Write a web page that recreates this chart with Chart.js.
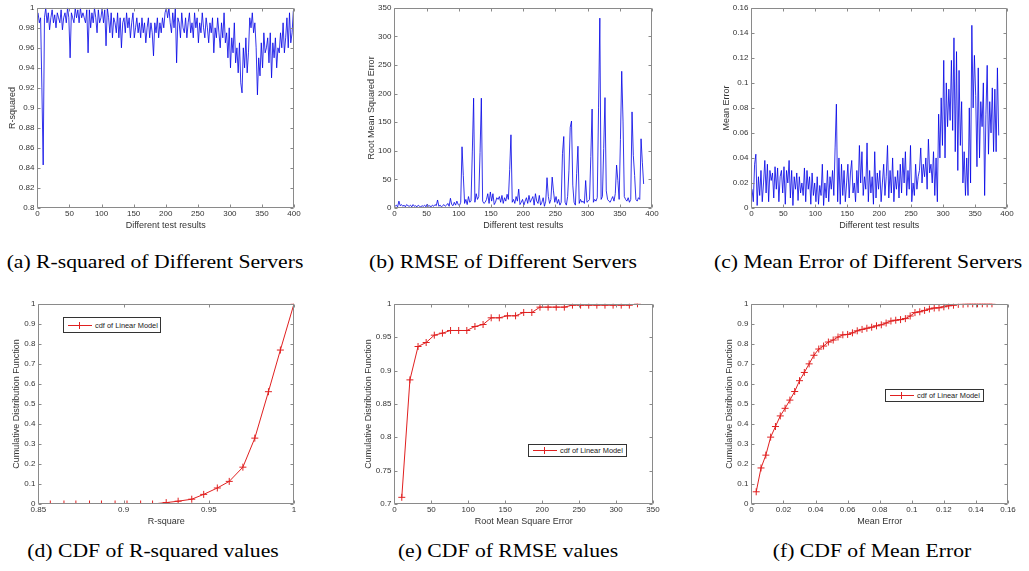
<!DOCTYPE html>
<html>
<head>
<meta charset="utf-8">
<title>Linear model accuracy</title>
<script src="https://cdn.jsdelivr.net/npm/chart.js@4.4.0/dist/chart.umd.min.js"></script>
<style>
body { margin: 0; background: #fff; width: 1029px; height: 571px; position: relative; overflow: hidden; }
canvas { position: absolute; }
.cap { position: absolute; font-family: 'Liberation Serif', 'Times New Roman', serif; font-size: 19px; line-height: 19px; color: #000; white-space: nowrap; transform: translateX(-50%) scaleX(1.14); }
.leg { position: absolute; border: 1px solid #333; background: #fff; box-sizing: border-box; font-family: 'Liberation Sans', Arial, sans-serif; font-size: 7.4px; color: #222; display: flex; align-items: center; white-space: nowrap; overflow: hidden; }
.leg .smp { position: relative; flex: none; width: 24px; height: 1px; background: #e02020; margin: 0 3px 0 4px; }
.leg .smp::before { content: ''; position: absolute; left: 11px; top: -3px; width: 1px; height: 7px; background: #e02020; }
</style>
</head>
<body>

<script>
// Top row: one value every second test result (x = 1, 3, 5, ...)
const rsqValues = [
  0.995,0.985,0.99,0.92,0.843,0.99,1.0,0.985,0.995,0.978,
  0.99,0.998,0.985,0.993,0.98,0.995,0.99,0.985,0.998,0.978,
  0.99,0.995,0.985,1.0,0.99,0.95,0.995,0.99,0.985,1.0,
  0.99,0.998,0.985,1.0,0.99,0.995,0.99,0.985,0.998,0.955,
  0.998,0.98,0.995,0.985,1.0,0.99,0.975,0.998,0.985,0.99,
  1.0,0.985,0.998,0.962,1.0,0.99,0.975,0.995,0.97,0.99,
  0.985,0.975,0.995,0.97,0.99,0.96,0.985,0.99,0.975,0.995,
  0.98,0.99,0.97,0.985,0.995,0.97,0.98,0.99,0.975,0.985,
  0.97,0.99,0.975,0.985,0.965,0.98,0.99,0.97,0.985,0.975,
  0.952,0.985,0.975,0.99,0.97,0.985,0.975,0.99,0.98,0.995,
  1.0,0.99,1.0,0.985,0.975,0.995,0.98,1.0,0.945,0.99,
  0.985,0.97,0.995,0.98,0.975,0.99,0.97,0.985,0.995,0.975,
  0.985,0.97,0.995,0.98,0.99,0.965,0.985,0.975,0.995,0.98,
  0.97,0.99,0.98,0.965,0.985,0.975,0.99,0.955,0.98,0.97,
  0.99,0.975,0.96,0.985,0.97,0.995,0.965,0.975,0.95,0.98,
  0.94,0.97,0.955,0.985,0.945,0.96,0.935,0.965,0.925,0.915,
  0.96,0.94,0.97,0.935,0.955,0.99,0.98,0.995,0.975,0.985,
  0.96,0.913,0.95,0.932,0.965,0.94,0.975,0.955,0.96,0.97,
  0.945,0.975,0.93,0.965,0.95,0.97,0.94,0.96,0.955,0.975,
  0.96,0.985,0.955,0.97,0.99,0.96,0.995,0.965,0.975,0.997
];
const rmseValues = [
  3,5,2,12,4,6,3,5,2,6,
  4,3,5,2,6,3,4,2,5,3,
  2,4,3,5,2,7,3,4,2,5,
  3,6,4,14,3,5,2,4,6,3,
  5,8,3,17,6,4,10,5,12,6,
  4,10,107,57,8,15,6,20,10,12,
  98,192,10,25,15,20,97,192,12,8,
  10,15,25,8,28,12,25,6,10,18,
  15,20,10,22,8,18,12,24,15,67,
  128,10,15,8,20,12,33,6,10,15,
  5,12,18,8,22,10,15,20,5,25,
  12,8,22,5,10,18,3,12,53,20,
  8,15,54,30,10,20,8,15,5,10,
  95,125,10,5,20,65,141,152,40,10,
  5,60,108,8,15,10,12,8,48,10,
  12,15,90,173,10,15,12,18,175,332,
  15,20,104,193,30,15,12,10,15,20,
  12,25,75,48,15,120,239,152,20,15,
  12,18,10,15,168,92,57,15,12,18,
  15,121,80,42
];
const meanErrValues = [
  0.015,0.005,0.035,0.043,0.002,0.025,0.01,0.03,0.005,0.02,
  0.038,0.012,0.035,0.005,0.03,0.022,0.028,0.008,0.033,0.015,
  0.032,0.005,0.025,0.03,0.012,0.033,0.003,0.03,0.02,0.038,
  0.008,0.03,0.002,0.025,0.015,0.028,0.006,0.025,0.012,0.02,
  0.01,0.032,0.005,0.03,0.015,0.025,0.003,0.028,0.01,0.02,
  0.005,0.025,0.003,0.018,0.01,0.035,0.002,0.02,0.008,0.03,
  0.005,0.025,0.015,0.03,0.01,0.048,0.083,0.005,0.04,0.003,
  0.035,0.01,0.03,0.005,0.02,0.035,0.008,0.028,0.038,0.012,
  0.02,0.005,0.03,0.012,0.05,0.02,0.045,0.01,0.025,0.015,
  0.052,0.005,0.03,0.012,0.025,0.003,0.045,0.008,0.028,0.015,
  0.03,0.005,0.02,0.035,0.01,0.025,0.05,0.008,0.03,0.012,
  0.04,0.005,0.025,0.015,0.03,0.008,0.035,0.012,0.04,0.02,
  0.045,0.01,0.03,0.015,0.05,0.005,0.02,0.01,0.035,0.015,
  0.025,0.03,0.048,0.02,0.035,0.025,0.04,0.015,0.055,0.028,
  0.035,0.02,0.045,0.01,0.04,0.005,0.075,0.04,0.088,0.05,
  0.118,0.04,0.1,0.065,0.095,0.07,0.118,0.062,0.136,0.045,
  0.125,0.03,0.11,0.05,0.085,0.02,0.045,0.01,0.04,0.01,
  0.08,0.02,0.146,0.08,0.122,0.09,0.033,0.112,0.04,0.085,
  0.065,0.1,0.01,0.075,0.114,0.043,0.085,0.06,0.096,0.045,
  0.095,0.045,0.112,0.058
];

// Bottom row: CDF curves
const cdfRsqX = [0.857,0.865,0.872,0.88,0.887,0.895,0.902,0.91,0.917,0.925,
  0.932,0.94,0.947,0.955,0.962,0.97,0.977,0.985,0.992,1.0];
const cdfRsqY = [0,0,0,0,0,0,0,0,0,0.007,0.014,0.024,0.048,0.08,0.113,0.184,0.329,0.561,0.769,1.0];

const cdfRmseX = [10,21,32,43,54,65,76,87,98,109,120,131,142,153,164,175,186,197,208,219,
  230,241,252,263,274,285,296,307,318,329];
const cdfRmseY = [0.71,0.886,0.936,0.942,0.953,0.956,0.96,0.96,0.96,0.966,0.969,0.979,0.979,0.982,0.982,
  0.987,0.987,0.995,0.995,0.995,0.995,0.998,0.998,0.998,0.998,0.998,0.998,0.998,0.998,1.0];

const cdfMeX = [0.003,0.006,0.009,0.012,0.015,0.018,0.021,0.024,0.027,0.03,
  0.033,0.036,0.039,0.042,0.045,0.048,0.051,0.054,0.057,0.06,
  0.063,0.066,0.069,0.072,0.075,0.078,0.081,0.084,0.087,0.09,
  0.093,0.096,0.099,0.102,0.105,0.108,0.111,0.114,0.117,0.12,
  0.123,0.126,0.129,0.132,0.135,0.138,0.141,0.144,0.147,0.15];
const cdfMeY = [0.061,0.18,0.244,0.334,0.387,0.44,0.478,0.519,0.562,0.616,
  0.657,0.7,0.743,0.774,0.789,0.809,0.819,0.834,0.845,0.847,
  0.855,0.865,0.872,0.878,0.883,0.89,0.895,0.904,0.914,0.918,
  0.921,0.926,0.939,0.956,0.96,0.967,0.974,0.979,0.98,0.985,
  0.99,0.993,0.997,0.998,1.0,1.0,1.0,1.0,1.0,1.0];

// Tick labels
const testTicks = [0,50,100,150,200,250,300,350,400];
const rsqTicks = [0.8,0.82,0.84,0.86,0.88,0.9,0.92,0.94,0.96,0.98,1];
const rmseTicks = [0,50,100,150,200,250,300,350];
const meanErrTicks = [0,0.02,0.04,0.06,0.08,0.1,0.12,0.14,0.16];
const rsqCdfXTicks = [0.85,0.9,0.95,1];
const cdfTicks = [0,0.1,0.2,0.3,0.4,0.5,0.6,0.7,0.8,0.9,1];
const rmseCdfYTicks = [0.7,0.75,0.8,0.85,0.9,0.95,1];

const legendLabel = 'cdf of Linear Model';
const FONT = "'Liberation Sans', Arial, sans-serif";

// MATLAB-like box with inward tick marks
const matlabFrame = {
    id: 'matlabFrame',
    afterDraw(chart) {
        const { ctx, chartArea: a, scales: { x, y } } = chart;
        const l = Math.round(a.left) + 0.5, r = Math.round(a.right) - 0.5;
        const t = Math.round(a.top) + 0.5, b = Math.round(a.bottom) - 0.5;
        ctx.save();
        ctx.strokeStyle = '#8a8a8a';
        ctx.lineWidth = 1;
        ctx.beginPath();
        ctx.rect(l, t, r - l, b - t);
        x.ticks.forEach(tk => {
            const px = Math.round(x.getPixelForValue(tk.value)) + 0.5;
            ctx.moveTo(px, b); ctx.lineTo(px, b - 3);
            ctx.moveTo(px, t); ctx.lineTo(px, t + 3);
        });
        y.ticks.forEach(tk => {
            const py = Math.round(y.getPixelForValue(tk.value)) + 0.5;
            ctx.moveTo(l, py); ctx.lineTo(l + 3, py);
            ctx.moveTo(r, py); ctx.lineTo(r - 3, py);
        });
        ctx.stroke();
        ctx.restore();
    }
};

function formatTick(v) {
    return String(parseFloat(Number(v).toFixed(4)));
}

function axis(tickList, title, size, horizontal) {
    return {
        type: 'linear',
        min: tickList[0],
        max: tickList[tickList.length - 1],
        grid: { display: false, drawTicks: false },
        border: { display: false },
        afterBuildTicks: s => { s.ticks = tickList.map(v => ({ value: v })); },
        afterFit: s => { if (horizontal) s.height = size; else s.width = size; },
        ticks: {
            autoSkip: false, maxRotation: 0, minRotation: 0,
            padding: horizontal ? 1 : 3,
            color: '#333',
            font: { family: FONT, size: 8 },
            callback: formatTick
        },
        title: { display: true, text: title, color: '#333', padding: 0, font: { family: FONT, size: 9 } }
    };
}

// box: plot area edges (L, R, T, B) and y-title centre (tx)
function makeChart(box, datasets, xAxis, yAxis) {
    const padTop = 6, padRight = 12, xH = 23;
    const left = box.tx - 5.4;
    const top = box.T - padTop;
    const c = document.createElement('canvas');
    c.width = Math.round(box.R - left + padRight);
    c.height = Math.round(box.B - top + xH);
    c.style.left = left + 'px';
    c.style.top = top + 'px';
    document.body.appendChild(c);
    new Chart(c, {
        type: 'line',
        data: { datasets: datasets },
        options: {
            responsive: false,
            animation: false,
            devicePixelRatio: 1,
            layout: { padding: { top: padTop, right: padRight, left: 0, bottom: 0 } },
            plugins: { legend: { display: false }, tooltip: { enabled: false } },
            scales: {
                x: axis(xAxis.ticks, xAxis.title, xH, true),
                y: axis(yAxis.ticks, yAxis.title, box.L - left, false)
            }
        },
        plugins: [matlabFrame]
    });
}

function blueSeries(values) {
    return [{
        data: values.map((v, i) => ({ x: 1 + 2 * i, y: v })),
        borderColor: 'rgba(0,0,230,0.8)',
        borderWidth: 1,
        pointRadius: 0,
        tension: 0
    }];
}

function redCdf(xs, ys) {
    return [{
        label: legendLabel,
        data: xs.map((v, i) => ({ x: v, y: ys[i] })),
        borderColor: '#e02020',
        borderWidth: 1,
        pointStyle: 'cross',
        pointRadius: 3.5,
        pointBorderWidth: 1,
        pointBorderColor: '#e02020',
        tension: 0
    }];
}

function addCaption(text, cx, cy) {
    const d = document.createElement('div');
    d.className = 'cap';
    d.textContent = text;
    d.style.left = cx + 'px';
    d.style.top = (cy - 9.5) + 'px';
    document.body.appendChild(d);
}

function addLegend(l, t, w, h) {
    const d = document.createElement('div');
    d.className = 'leg';
    d.style.left = l + 'px'; d.style.top = t + 'px';
    d.style.width = w + 'px'; d.style.height = h + 'px';
    const s = document.createElement('span');
    s.className = 'smp';
    const tx = document.createElement('span');
    tx.textContent = legendLabel;
    d.appendChild(s); d.appendChild(tx);
    document.body.appendChild(d);
}

function init() {
    makeChart({ L: 37, R: 294, T: 6, B: 208, tx: 12 }, blueSeries(rsqValues),
        { ticks: testTicks, title: 'Different test results' }, { ticks: rsqTicks, title: 'R-squared' });
    makeChart({ L: 394, R: 652, T: 6, B: 208, tx: 371 }, blueSeries(rmseValues),
        { ticks: testTicks, title: 'Different test results' }, { ticks: rmseTicks, title: 'Root Mean Squared Error' });
    makeChart({ L: 751, R: 1007, T: 6, B: 208, tx: 726 }, blueSeries(meanErrValues),
        { ticks: testTicks, title: 'Different test results' }, { ticks: meanErrTicks, title: 'Mean Error' });

    makeChart({ L: 38, R: 294, T: 302, B: 504, tx: 16 }, redCdf(cdfRsqX, cdfRsqY),
        { ticks: rsqCdfXTicks, title: 'R-square' }, { ticks: cdfTicks, title: 'Cumulative Distribution Function' });
    makeChart({ L: 394, R: 653, T: 302, B: 504, tx: 368 }, redCdf(cdfRmseX, cdfRmseY),
        { ticks: rmseTicks, title: 'Root Mean Square Error' }, { ticks: rmseCdfYTicks, title: 'Cumulative Distribution Function' });
    makeChart({ L: 751, R: 1008, T: 302, B: 504, tx: 729 }, redCdf(cdfMeX, cdfMeY),
        { ticks: meanErrTicks, title: 'Mean Error' }, { ticks: cdfTicks, title: 'Cumulative Distribution Function' });

    addLegend(63, 317, 98, 16);
    addLegend(528, 444, 99, 13);
    addLegend(885, 389, 99, 13);

    addCaption('(a) R-squared of Different Servers', 155, 261);
    addCaption('(b) RMSE of Different Servers', 503, 261);
    addCaption('(c) Mean Error of Different Servers', 868, 261);
    addCaption('(d) CDF of R-squared values', 153, 550);
    addCaption('(e) CDF of RMSE values', 508, 550);
    addCaption('(f) CDF of Mean Error', 872, 550);
}

document.addEventListener('DOMContentLoaded', init);
</script>
</body>
</html>
